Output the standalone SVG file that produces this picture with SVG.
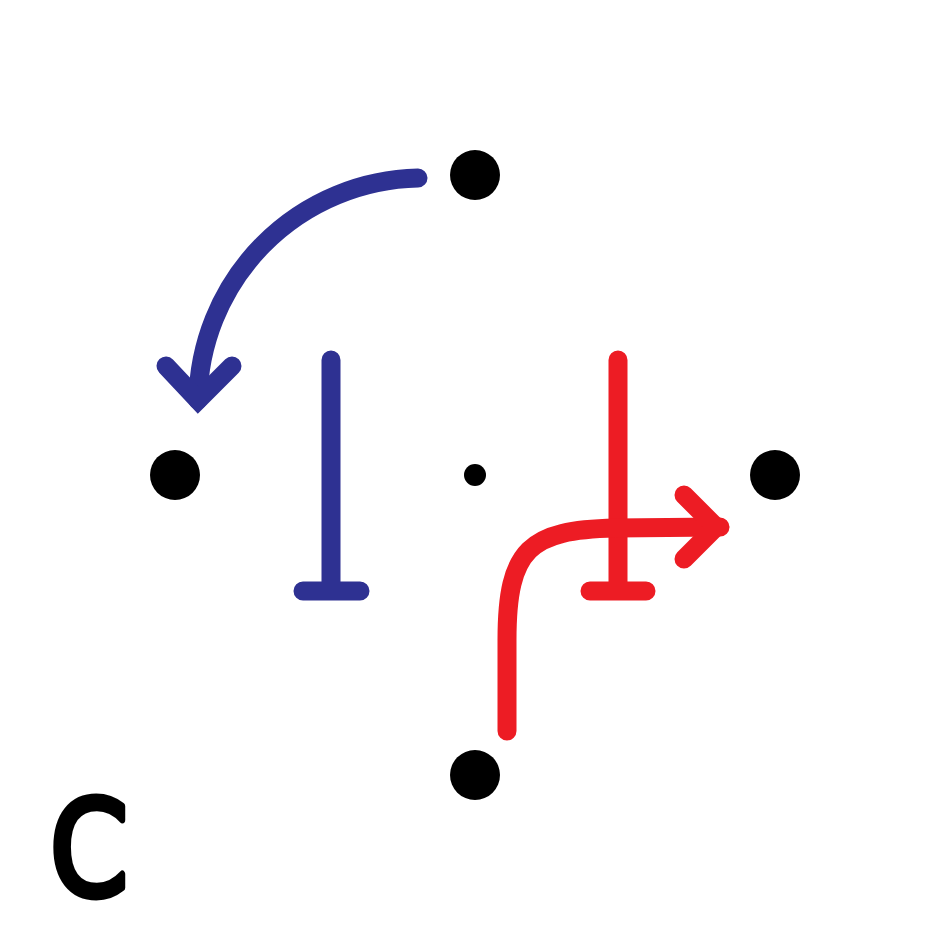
<svg xmlns="http://www.w3.org/2000/svg" width="950" height="950" viewBox="0 0 950 950">
<style>
.blue{stroke:#2E3192;fill:none;stroke-width:19;stroke-linecap:round}
.red{stroke:#ED1C24;fill:none;stroke-width:19;stroke-linecap:round}
.head{stroke-linejoin:miter}
.dot{fill:#000}
.lbl{font-family:"DejaVu Sans","Liberation Sans",sans-serif;font-size:132px;fill:#000;stroke:#000;stroke-width:7;stroke-linejoin:round}
</style>
<rect width="950" height="950" fill="#fff"/>
<g id="nodes">
<g id="n-top"><circle class="dot" cx="475" cy="175" r="25"/></g>
<g id="n-left"><circle class="dot" cx="175" cy="475" r="25"/></g>
<g id="n-right"><circle class="dot" cx="775" cy="475" r="25"/></g>
<g id="n-bottom"><circle class="dot" cx="475" cy="775" r="25"/></g>
<g id="n-center"><circle class="dot" cx="475" cy="475" r="11"/></g>
</g>
<g id="connectors">
<path class="blue" d="M418,178 A225,225 0 0 0 198,400"/>
<polyline class="blue head" points="166,366 198,400 232,366"/>
<path class="blue" d="M331,360 L331,590 M303,591 L360,591"/>
<path class="red" d="M618,360 L618,590 M590,591 L646,591"/>
<path class="red" d="M507,731 L507,640 C507,548 530,530 615,528 L720,527"/>
<polyline class="red head" points="684,495 716,527 684,559"/>
</g>
<g id="label">
<text class="lbl" x="50" y="895" transform="translate(50 0) scale(0.85 1) translate(-50 0)">C</text>
</g>
</svg>
